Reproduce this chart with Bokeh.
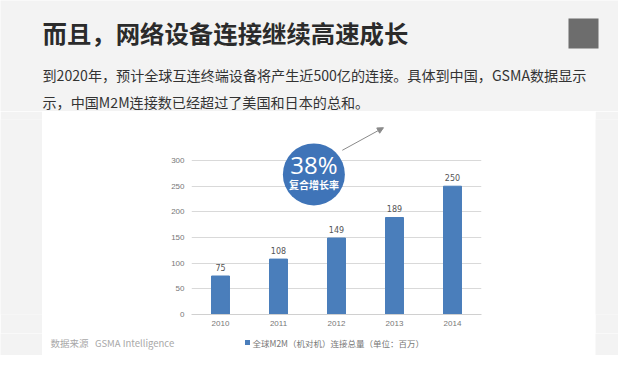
from bokeh.plotting import figure
from bokeh.layouts import column, row
from bokeh.models import ColumnDataSource, Range1d, FactorRange, Arrow, NormalHead, FixedTicker
from bokeh.core.properties import value
from bokeh.embed import file_html
from bokeh.resources import INLINE

years = ["2010", "2011", "2012", "2013", "2014"]
connections = [75, 108, 149, 189, 250]
y_ticks = [0, 50, 100, 150, 200, 250, 300]
title_text = "而且，网络设备连接继续高速成长"
subtitle_1 = "到2020年，预计全球互连终端设备将产生近500亿的连接。具体到中国，GSMA数据显示"
subtitle_2 = "示，中国M2M连接数已经超过了美国和日本的总和。"
legend_text = "全球M2M（机对机）连接总量（单位：百万）"
source_text = "数据来源\u00a0\u00a0\u00a0GSMA Intelligence"
cagr_text = "38%"
cagr_label = "复合增长率"

CJK = "Noto Sans CJK SC"
BAR = "#4a7ebb"
SLIDE = "#f3f3f3"


def blank(w, h, fill):
    f = figure(width=w, height=h, x_range=Range1d(0, w), y_range=Range1d(h, 0),
               output_backend="svg", toolbar_location=None, min_border=0)
    f.axis.visible = False
    f.grid.visible = False
    f.outline_line_color = None
    f.border_fill_color = fill
    f.background_fill_color = fill
    return f


# ---- header (title, subtitle, QR) ----
HH = 111
header = blank(618, HH, SLIDE)
header.text(x=[42], y=[32], text=[title_text], text_font=value(CJK), text_font_size="24.4px",
            text_font_style="bold", text_color="#2b2b2b", text_baseline="middle")
header.text(x=[42, 42], y=[74, 101], text=[subtitle_1, subtitle_2], text_font=value(CJK),
            text_font_size="14.1px", text_color="#333333", text_baseline="middle")
header.quad(left=[568], right=[598], top=[18], bottom=[48], fill_color="#555555", fill_alpha=0.85,
            line_color=None)

# ---- chart ----
LW = 42
CW, CH = 553, 222
RW = 618 - LW - CW
p = figure(width=CW, height=CH, x_range=FactorRange(*years), y_range=Range1d(0, 380),
           output_backend="svg", toolbar_location=None,
           min_border_left=149, min_border_right=114, min_border_top=8, min_border_bottom=19)
p.border_fill_color = "white"
p.background_fill_color = "white"
p.outline_line_color = None

src = ColumnDataSource(dict(x=years, y=connections, lab=[str(v) for v in connections]))
p.vbar(x="x", top="y", width=0.31, source=src, color=BAR)
p.text(x="x", y="y", text="lab", source=src, text_align="center", text_baseline="middle",
       y_offset=-9, text_font_size="8px", text_color="#555555", text_font=value("DejaVu Sans"))

p.yaxis.ticker = FixedTicker(ticks=y_ticks)
p.ygrid.ticker = FixedTicker(ticks=y_ticks)
p.ygrid.grid_line_color = "#d9d9d9"
p.xgrid.grid_line_color = None
for ax in (p.xaxis, p.yaxis):
    ax.major_tick_line_color = None
    ax.minor_tick_line_color = None
    ax.major_tick_out = 0
    ax.major_tick_in = 0
    ax.minor_tick_out = 0
    ax.major_label_text_font_size = "8px"
    ax.major_label_text_color = "#777777"
p.yaxis.axis_line_color = None
p.yaxis.major_label_standoff = 7
p.xaxis.axis_line_color = "#d0d0d0"
p.xaxis.major_label_standoff = 6

p.scatter(x=[2.11], y=[273], marker="circle", size=62, fill_color="#3f74b8", line_color=None)
p.text(x=[2.11], y=[292], text=[cagr_text], text_align="center", text_baseline="middle",
       text_font_size="24px", text_color="white", text_font=value("Open Sans"))
p.text(x=[2.11], y=[254], text=[cagr_label], text_align="center", text_baseline="middle",
       text_font_size="10px", text_color="white", text_font=value(CJK), text_font_style="bold")
p.add_layout(Arrow(x_start=2.60, y_start=320, x_end=3.31, y_end=364, line_color="#8a8a8a", line_width=1,
                   end=NormalHead(size=6, fill_color="#8a8a8a", line_color="#8a8a8a")))

# ---- bottom strip: source + legend ----
BH = 355 - HH - CH
bottom = blank(CW, BH, "white")
bottom.text(x=[8], y=[9], text=[source_text], text_font=value(CJK), text_font_size="9.5px",
            text_color="#a8a8a8", text_baseline="middle")
bottom.scatter(x=[205], y=[9], marker="square", size=5, fill_color=BAR, line_color=None)
bottom.text(x=[210], y=[9], text=[legend_text], text_font=value(CJK), text_font_size="8.5px",
            text_color="#777777", text_baseline="middle")

layout = column(
    header,
    row(blank(LW, CH, SLIDE), p, blank(RW, CH, SLIDE), spacing=0),
    row(blank(LW, BH, SLIDE), bottom, blank(RW, BH, SLIDE), spacing=0),
    spacing=0,
)
open("out.html", "w").write(file_html(layout, INLINE))
